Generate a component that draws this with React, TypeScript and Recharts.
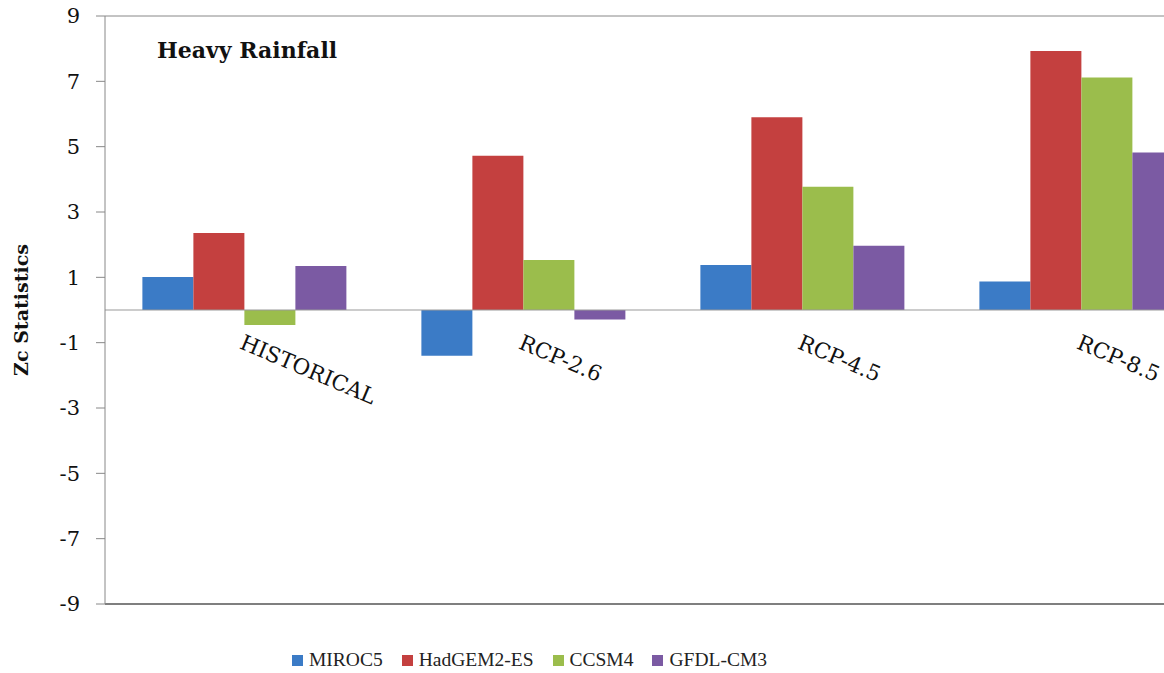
import React from 'react';
import { BarChart, Bar, XAxis, YAxis, ReferenceLine, Legend, Label } from 'recharts';

const categories = ['HISTORICAL', 'RCP-2.6', 'RCP-4.5', 'RCP-8.5'];
const miroc5 = [1.01, -1.4, 1.38, 0.87];
const hadgem2 = [2.36, 4.72, 5.9, 7.93];
const ccsm4 = [-0.46, 1.53, 3.77, 7.12];
const gfdl = [1.35, -0.29, 1.97, 4.82];
const yTicks = [-9, -7, -5, -3, -1, 1, 3, 5, 7, 9];

const seriesNames = ['MIROC5', 'HadGEM2-ES', 'CCSM4', 'GFDL-CM3'];
const seriesColors = ['#3B7BC6', '#C4403F', '#9BBD4C', '#7B5AA3'];

const data = categories.map((c, i) => ({
  name: c,
  MIROC5: miroc5[i],
  'HadGEM2-ES': hadgem2[i],
  CCSM4: ccsm4[i],
  'GFDL-CM3': gfdl[i],
}));

const W = 1240;
const H = 673;
const M = { top: 16, right: 19, bottom: 9, left: 0 };
const XH = 30;
const LH = 30;
const PLOT_BOTTOM = H - M.bottom - XH - LH;
const PLOT_H = PLOT_BOTTOM - M.top;
const FONT = '"DejaVu Serif", serif';
const LFONT = '"Liberation Serif", serif';

const zeroY = M.top + PLOT_H * (9 - 0) / 18;

const CatTick = (props: any) => {
  const { x, payload } = props;
  const ax = x - 6;
  const ay = zeroY + 38;
  return (
    <text x={ax} y={ay} transform={`rotate(23 ${ax} ${ay})`} textAnchor="start"
      fontFamily={FONT} fontSize={21.5} fill="#111">{payload.value}</text>
  );
};

const LegendContent = (props: any) => {
  const payload = [...(props.payload || [])].sort(
    (a: any, b: any) => seriesNames.indexOf(a.value) - seriesNames.indexOf(b.value));
  return (
    <div style={{ display: 'flex', alignItems: 'center', height: LH, fontFamily: LFONT, fontSize: 19.5, color: '#222' }}>
      {payload.map((p: any, i: number) => (
        <div key={i} style={{ display: 'flex', alignItems: 'center', marginRight: 19 }}>
          <span style={{ display: 'inline-block', width: 11, height: 11, background: p.color, marginRight: 6 }} />
          <span>{p.value}</span>
        </div>
      ))}
    </div>
  );
};

export default function App() {
  return (
    <div style={{ position: 'fixed', left: 0, top: 0, width: 1164, height: 673, overflow: 'hidden', background: '#fff' }}>
      <BarChart width={W} height={H} data={data} margin={M} barCategoryGap="13.4%" barGap={0}>
        <XAxis dataKey="name" height={XH} tickLine={false} axisLine={{ stroke: '#555', strokeWidth: 1.5 }}
          tick={<CatTick />} interval={0} />
        <YAxis domain={[-9, 9]} ticks={yTicks} width={105} tickSize={9} tickMargin={16}
          axisLine={{ stroke: '#888' }} tickLine={{ stroke: '#888' }}
          tick={{ fontFamily: FONT, fontSize: 21, fill: '#111' }} interval={0}>
          <Label value="Zc Statistics" angle={-90} position="insideLeft" offset={21}
            style={{ fontFamily: FONT, fontSize: 19, fontWeight: 'bold', fill: '#111', textAnchor: 'middle' }} />
        </YAxis>
        <ReferenceLine y={9} stroke="#888" />
        <ReferenceLine y={0} stroke="#999" />
        {seriesNames.map((s, i) => (
          <Bar key={s} dataKey={s} fill={seriesColors[i]} isAnimationActive={false} />
        ))}
        <Legend verticalAlign="bottom" height={LH} content={<LegendContent />}
          wrapperStyle={{ left: 292, bottom: -2, width: 'auto' }} />
        <text x={157} y={58} fontFamily={FONT} fontSize={22} fontWeight="bold" fill="#111">Heavy Rainfall</text>
      </BarChart>
    </div>
  );
}
